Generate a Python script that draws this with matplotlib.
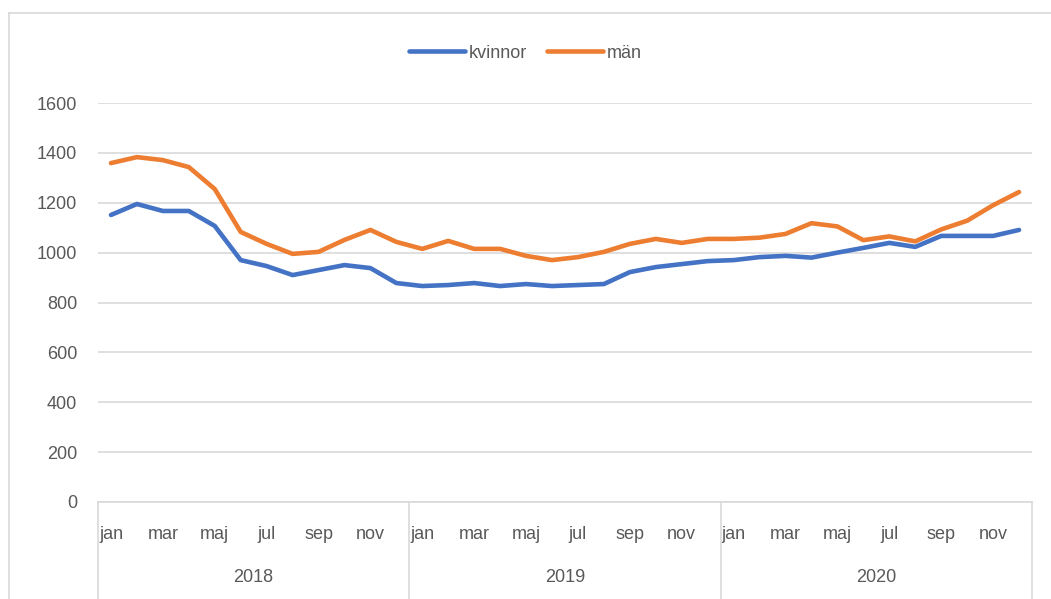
import matplotlib
matplotlib.use('Agg')
import matplotlib.pyplot as plt
import matplotlib.transforms as mtransforms
from matplotlib.lines import Line2D

months = ['jan', 'feb', 'mar', 'apr', 'maj', 'jun',
          'jul', 'aug', 'sep', 'okt', 'nov', 'dec']
years = ['2018', '2019', '2020']

kvinnor = [1151, 1195, 1167, 1167, 1107, 970, 946, 910, 930, 950, 938, 878,
           866, 870, 878, 866, 874, 866, 870, 874, 922, 942, 954, 966,
           970, 982, 987, 980, 1000, 1019, 1039, 1023, 1067, 1067, 1067, 1091]
man = [1359, 1383, 1371, 1343, 1255, 1083, 1035, 995, 1003, 1051, 1091, 1043,
       1015, 1047, 1015, 1015, 987, 970, 982, 1003, 1035, 1055, 1039, 1055,
       1055, 1060, 1075, 1118, 1105, 1050, 1065, 1045, 1093, 1128, 1190, 1243]

blue = '#4472C4'
orange = '#ED7D31'
grey_txt = '#595959'
grid_col = '#D9D9D9'
fs = 13

plt.rcParams['font.family'] = ['Liberation Sans', 'DejaVu Sans']

W, H = 1051, 599
fig = plt.figure(figsize=(W / 100, H / 100), dpi=100)
ax = fig.add_axes([98 / W, 1 - 502 / H, (1032 - 98) / W, (502 - 103) / H])

x = list(range(len(kvinnor)))
ax.plot(x, kvinnor, color=blue, lw=3.3, solid_capstyle='round',
        solid_joinstyle='round', label='kvinnor', zorder=3)
ax.plot(x, man, color=orange, lw=3.3, solid_capstyle='round',
        solid_joinstyle='round', label='män', zorder=3)

ax.set_xlim(-0.5, len(x) - 0.5)
ax.set_ylim(0, 1600)
ax.set_yticks(range(0, 1601, 200))
ax.grid(axis='y', color=grid_col, lw=1.2)
ax.set_axisbelow(True)
for s in ['top', 'right', 'left']:
    ax.spines[s].set_visible(False)
ax.spines['bottom'].set_color(grid_col)
ax.spines['bottom'].set_linewidth(1.2)
ax.tick_params(axis='y', length=0, pad=15, labelsize=fs, labelcolor=grey_txt)

ticks = [i for i in x if i % 2 == 0]
ax.set_xticks(ticks)
ax.set_xticklabels([months[i % 12] for i in ticks])
ax.tick_params(axis='x', length=0, pad=17, labelsize=fs, labelcolor=grey_txt)

trans = mtransforms.blended_transform_factory(ax.transData, ax.transAxes)
for k in range(len(years) + 1):
    xs = k * 12 - 0.5
    ax.plot([xs, xs], [0, -0.25], color=grid_col, lw=1.2,
            transform=trans, clip_on=False)
for k, yr in enumerate(years):
    ax.text(k * 12 + 5.5, -0.19, yr, transform=trans, ha='center',
            va='center', fontsize=fs, color=grey_txt)

leg = ax.legend(loc='center', bbox_to_anchor=(0.5, 1 - 53 / H),
                bbox_transform=fig.transFigure, ncol=2, frameon=False,
                fontsize=fs, handlelength=3.1, handletextpad=0.2,
                columnspacing=1.1)
for t in leg.get_texts():
    t.set_color(grey_txt)

# chart border
fig.add_artist(Line2D([9 / W, 9 / W], [0, 1 - 13 / H], color=grid_col,
                      lw=1.2, transform=fig.transFigure))
fig.add_artist(Line2D([9 / W, 1], [1 - 13 / H, 1 - 13 / H], color=grid_col,
                      lw=1.2, transform=fig.transFigure))

fig.savefig('out.png', dpi=100)
